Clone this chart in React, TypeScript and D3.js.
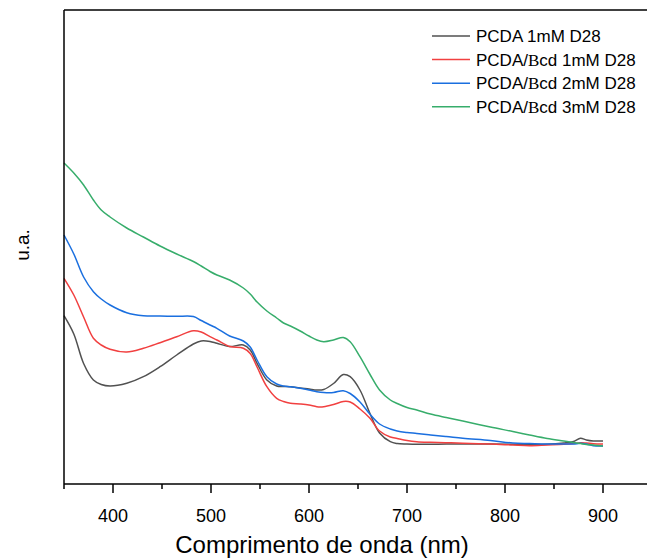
import React from 'react';
import * as d3 from 'd3';

const wavelengths = [350,360,370,380,388,397,414,431,448,465,482,490,499,506,519,533,540,547,557,567,574,581,591,600,608,615,625,635,642,652,662,672,683,690,700,710,724,740,757,785,808,825,843,860,870,877,883,890,900];

const pcda1 = [1.683,1.50,1.205,1.04,0.995,0.98,1.007,1.073,1.173,1.29,1.40,1.43,1.425,1.407,1.375,1.39,1.34,1.207,1.04,0.98,0.975,0.973,0.96,0.95,0.94,0.945,1.005,1.095,1.073,0.94,0.71,0.51,0.423,0.405,0.40,0.397,0.397,0.40,0.40,0.40,0.397,0.395,0.397,0.41,0.425,0.457,0.44,0.43,0.43];
const bcd1 = [2.057,1.89,1.67,1.457,1.39,1.347,1.32,1.357,1.413,1.473,1.533,1.52,1.473,1.44,1.375,1.357,1.305,1.17,0.973,0.857,0.825,0.807,0.80,0.79,0.773,0.773,0.795,0.825,0.82,0.75,0.66,0.53,0.47,0.455,0.435,0.423,0.417,0.413,0.407,0.40,0.39,0.383,0.39,0.397,0.405,0.413,0.41,0.403,0.40];
const bcd2 = [2.49,2.30,2.07,1.923,1.85,1.79,1.713,1.683,1.68,1.677,1.675,1.635,1.59,1.557,1.48,1.43,1.37,1.24,1.073,1.00,0.98,0.973,0.957,0.94,0.923,0.915,0.915,0.933,0.905,0.82,0.70,0.60,0.55,0.53,0.515,0.505,0.49,0.475,0.457,0.435,0.41,0.405,0.40,0.40,0.40,0.407,0.40,0.383,0.38];
const bcd3 = [3.21,3.11,2.99,2.84,2.74,2.67,2.56,2.47,2.38,2.30,2.225,2.18,2.125,2.09,2.04,1.96,1.90,1.82,1.73,1.66,1.61,1.58,1.53,1.48,1.44,1.423,1.44,1.465,1.423,1.273,1.10,0.94,0.84,0.805,0.765,0.74,0.70,0.665,0.63,0.57,0.525,0.49,0.455,0.43,0.415,0.405,0.395,0.39,0.38];

const seriesPrefix = ['PCDA', 'PCDA/', 'PCDA/', 'PCDA/'];
const seriesGreek = ['', 'B', 'B', 'B'];
const seriesSuffix = [' 1mM D28', 'cd 1mM D28', 'cd 2mM D28', 'cd 3mM D28'];
const seriesValues = [pcda1, bcd1, bcd2, bcd3];
const seriesColors = ['#515151', '#F14040', '#1A6FDF', '#37AD6B'];

const majorTicks = [400, 500, 600, 700, 800, 900];
const minorTicks = [350, 450, 550, 650, 750, 850];
const xTitle = 'Comprimento de onda (nm)';
const yTitle = 'u.a.';

const W = 647, H = 560;
const left = 64, top = 10, bottom = 484, right = 652;

export default function App() {
  const x = d3.scaleLinear().domain([350, 950]).range([left, right]);
  const y = d3.scaleLinear().domain([0, 4.74]).range([bottom, top]);
  const line = d3.line<[number, number]>()
    .x(d => x(d[0]))
    .y(d => y(d[1]))
    .curve(d3.curveCatmullRom.alpha(0.5));
  const font = 'Liberation Sans, Arial, sans-serif';

  return (
    <svg width={W} height={H} style={{ position: 'absolute', left: 0, top: 0, display: 'block' }}>
      <rect x={0} y={0} width={W} height={H} fill="#fff" />
      {seriesValues.map((vals, i) => (
        <path key={i}
          d={line(wavelengths.map((w, j) => [w, vals[j]] as [number, number])) || ''}
          fill="none" stroke={seriesColors[i]} strokeWidth={1.5} />
      ))}
      <line x1={left} x2={W + 10} y1={top} y2={top} stroke="#000" strokeWidth={1.5} />
      <line x1={left} x2={left} y1={top} y2={bottom} stroke="#000" strokeWidth={1.5} />
      <line x1={left} x2={W + 10} y1={bottom} y2={bottom} stroke="#000" strokeWidth={1.5} />
      {majorTicks.map(t => (
        <g key={'M' + t}>
          <line x1={x(t)} x2={x(t)} y1={bottom} y2={bottom + 9} stroke="#000" strokeWidth={1.5} />
          <text x={x(t)} y={522} textAnchor="middle" fontFamily={font} fontSize={18} fill="#000">{t}</text>
        </g>
      ))}
      {minorTicks.map(t => (
        <line key={'m' + t} x1={x(t)} x2={x(t)} y1={bottom} y2={bottom + 5} stroke="#000" strokeWidth={1.5} />
      ))}
      <text x={322} y={553} textAnchor="middle" fontFamily={font} fontSize={24} fill="#000">{xTitle}</text>
      <text transform={`translate(29,245) rotate(-90)`} textAnchor="middle" fontFamily={font} fontSize={19} fill="#000">{yTitle}</text>
      {seriesColors.map((c, i) => {
        const ly = 36 + i * 23.6;
        return (
          <g key={'L' + i}>
            <line x1={432} x2={470} y1={ly} y2={ly} stroke={c} strokeWidth={1.5} />
            <text x={476} y={ly + 6} fontFamily={font} fontSize={17} fill="#000">
              {seriesPrefix[i]}
              {seriesGreek[i] && <tspan fontFamily="Liberation Serif, Times New Roman, serif">{seriesGreek[i]}</tspan>}
              {seriesSuffix[i]}
            </text>
          </g>
        );
      })}
    </svg>
  );
}
